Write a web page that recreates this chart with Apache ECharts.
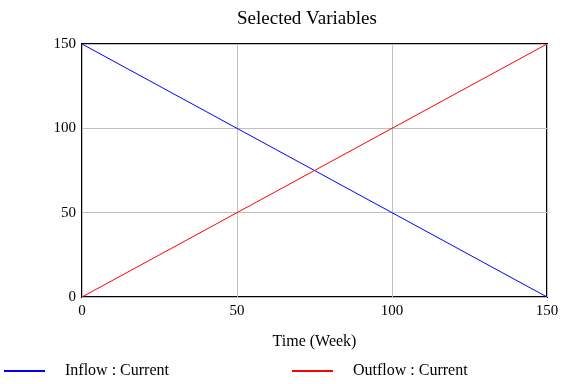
<!DOCTYPE html>
<html><head><meta charset="utf-8">
<script src="https://cdn.jsdelivr.net/npm/echarts@6/dist/echarts.min.js"></script>
<style>html,body{margin:0;padding:0;background:#fff}#c{width:576px;height:384px}</style>
</head><body><div id="c"></div>
<script>
const title = "Selected Variables";
const xName = "Time (Week)";
const time = [0, 50, 100, 150];
const inflow = [150, 100, 50, 0];
const outflow = [0, 50, 100, 150];
const seriesNames = ["Inflow : Current", "Outflow : Current"];
const F = "'Liberation Serif','Times New Roman',serif";
const chart = echarts.init(document.getElementById('c'));
chart.setOption({
  animation: false,
  backgroundColor: '#fff',
  title: {text: title, left: 237, top: 10, padding: 0, textStyle: {fontFamily: F, fontSize: 19, fontWeight: 'normal', color: '#000'}},
  grid: {left: 82, right: 29, top: 44, bottom: 87, show: true, borderColor: '#000', borderWidth: 2, backgroundColor: 'transparent'},
  xAxis: {type: 'value', min: 0, max: 150, interval: 50, name: xName, nameLocation: 'middle', nameGap: 37,
    nameTextStyle: {fontFamily: F, fontSize: 16, color: '#000'},
    axisLine: {show: false}, axisTick: {show: false},
    axisLabel: {fontFamily: F, fontSize: 15, color: '#000', margin: 7},
    splitLine: {lineStyle: {color: '#c0c0c0', width: 1}}},
  yAxis: {type: 'value', min: 0, max: 150, interval: 50,
    axisLine: {show: false}, axisTick: {show: false},
    axisLabel: {fontFamily: F, fontSize: 15, color: '#000', margin: 6},
    splitLine: {lineStyle: {color: '#c0c0c0', width: 1}}},
  legend: [
    {data: [seriesNames[0]], left: 4, top: 363, padding: 0, icon: 'rect', itemWidth: 41, itemHeight: 2,
      textStyle: {fontFamily: F, fontSize: 16, color: '#000', padding: [0, 0, 0, 15]}},
    {data: [seriesNames[1]], left: 292, top: 363, padding: 0, icon: 'rect', itemWidth: 41, itemHeight: 2,
      textStyle: {fontFamily: F, fontSize: 16, color: '#000', padding: [0, 0, 0, 15]}}
  ],
  series: [
    {name: seriesNames[0], type: 'line', data: time.map((t, i) => [t, inflow[i]]), symbol: 'none', color: '#0000ff', lineStyle: {width: 1}},
    {name: seriesNames[1], type: 'line', data: time.map((t, i) => [t, outflow[i]]), symbol: 'none', color: '#ff0000', lineStyle: {width: 1}}
  ]
});
</script></body></html>
